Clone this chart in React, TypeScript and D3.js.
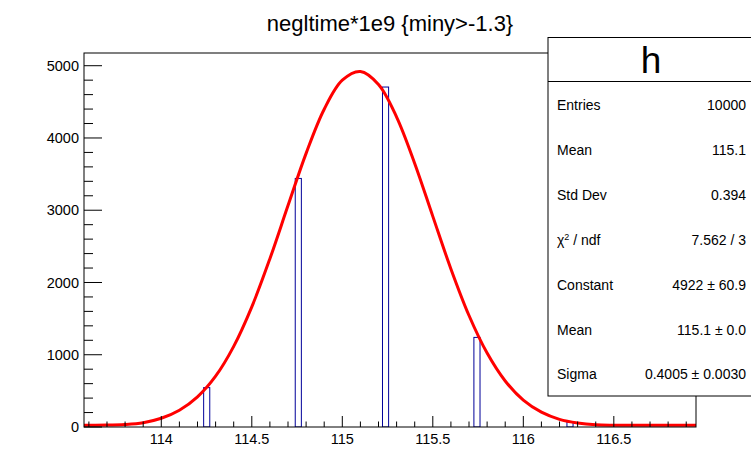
import React from 'react';
import * as d3 from 'd3';

// ---- data ----
const binLow = [114.234, 114.74, 115.222, 115.727, 116.241];
const binWidth = 0.0338;
const binCounts = [545, 3440, 4705, 1240, 70];

const fitX = [113.573, 113.6, 113.7, 113.8, 113.9, 114.0, 114.1, 114.2, 114.3, 114.4, 114.5, 114.6, 114.7, 114.8, 114.9, 115.0, 115.1, 115.2, 115.3, 115.4, 115.5, 115.6, 115.7, 115.8, 115.9, 116.0, 116.1, 116.2, 116.3, 116.4, 116.5, 116.6, 116.7, 116.8, 116.9, 116.954];
const fitY = [25, 25, 26, 35, 60, 121, 232, 417, 703, 1116, 1663, 2329, 3064, 3787, 4398, 4799, 4920, 4740, 4290, 3648, 2915, 2188, 1543, 1023, 637, 372, 205, 106, 55, 30, 25, 25, 25, 25, 25, 25];

const xMajorTicks = [114, 114.5, 115, 115.5, 116, 116.5];
const xTickLabels = ['114', '114.5', '115', '115.5', '116', '116.5'];
const yMajorTicks = [0, 1000, 2000, 3000, 4000, 5000];
const yTickLabels = ['0', '1000', '2000', '3000', '4000', '5000'];

const title = 'negltime*1e9 {miny>-1.3}';
const statsName = 'h';
const statsLabels = ['Entries', 'Mean', 'Std Dev', 'CHI', 'Constant', 'Mean', 'Sigma'];
const statsValues = ['10000', '115.1', '0.394', '7.562 / 3', '4922 \u00b1 60.9', '115.1 \u00b1 0.0', '0.4005 \u00b1 0.0030'];

const X_DOMAIN: [number, number] = [113.573, 116.954];
const Y_DOMAIN: [number, number] = [0, 5176];

const FONT = '"Liberation Sans", Arial, Helvetica, sans-serif';

export default function App() {
  const W = 751, H = 471;
  const fl = 84, fr = 696, ft = 53, fb = 427;
  const x = d3.scaleLinear().domain(X_DOMAIN).range([fl, fr]);
  const y = d3.scaleLinear().domain(Y_DOMAIN).range([fb, ft]);

  const xMinor = d3.range(Math.ceil(X_DOMAIN[0] * 10), Math.floor(X_DOMAIN[1] * 10) + 1)
    .map((v) => v / 10)
    .filter((v) => !xMajorTicks.some((m) => Math.abs(m - v) < 1e-6));
  const yMinor = d3.range(0, Y_DOMAIN[1], 200).filter((v) => v % 1000 !== 0);

  const line = d3.line<number>()
    .x((_, i) => x(fitX[i]))
    .y((d) => y(d))
    .curve(d3.curveCatmullRom);

  const boxL = 548, boxT = 37.5, boxSep = 81.5, boxB = 396;
  const rowH = (boxB - boxSep) / statsLabels.length;

  return (
    <svg width={W} height={H} style={{ position: 'absolute', left: 0, top: 0, background: '#fff' }}
      fontFamily={FONT}>
      <rect x={0} y={0} width={W} height={H} fill="#fff" />
      <defs>
        <clipPath id="frameClip">
          <rect x={fl} y={ft} width={fr - fl} height={fb - ft} />
        </clipPath>
      </defs>
      {/* title */}
      <text x={(fl + fr) / 2} y={31} textAnchor="middle" fontSize={22} fill="#000">{title}</text>

      {/* histogram bars */}
      <g clipPath="url(#frameClip)">
        {binLow.map((b, i) => (
          <rect key={i} x={x(b)} y={y(binCounts[i])} width={x(b + binWidth) - x(b)}
            height={y(0) - y(binCounts[i])} fill="none" stroke="#000099" strokeWidth={1} />
        ))}
        <path d={line(fitY) || ''} fill="none" stroke="#ff0000" strokeWidth={3} strokeLinejoin="round" />
      </g>

      {/* frame */}
      <rect x={fl} y={ft} width={fr - fl} height={fb - ft} fill="none" stroke="#000" strokeWidth={1} />

      {/* x axis ticks */}
      {xMajorTicks.map((t, i) => (
        <g key={'xm' + i}>
          <line x1={x(t)} x2={x(t)} y1={fb} y2={fb - 11} stroke="#000" />
          <text x={x(t)} y={fb + 17} textAnchor="middle" fontSize={14.5} fill="#000">{xTickLabels[i]}</text>
        </g>
      ))}
      {xMinor.map((t, i) => (
        <line key={'xn' + i} x1={x(t)} x2={x(t)} y1={fb} y2={fb - 5.5} stroke="#000" />
      ))}

      {/* y axis ticks */}
      {yMajorTicks.map((t, i) => (
        <g key={'ym' + i}>
          <line x1={fl} x2={fl + 18} y1={y(t)} y2={y(t)} stroke="#000" />
          <text x={79} y={y(t)} dy="0.35em" textAnchor="end" fontSize={14.5} fill="#000">{yTickLabels[i]}</text>
        </g>
      ))}
      {yMinor.map((t, i) => (
        <line key={'yn' + i} x1={fl} x2={fl + 9} y1={y(t)} y2={y(t)} stroke="#000" />
      ))}

      {/* stats box */}
      <rect x={boxL} y={boxT} width={W + 5 - boxL} height={boxB - boxT} fill="#fff" stroke="#000" strokeWidth={1} />
      <line x1={boxL} x2={W + 5} y1={boxSep} y2={boxSep} stroke="#000" />
      <text x={651} y={boxSep - 9} textAnchor="middle" fontSize={37} fill="#000">{statsName}</text>
      {statsLabels.map((lab, i) => {
        const cy = boxSep + (i + 0.5) * rowH + 1;
        return (
          <g key={'s' + i}>
            {lab === 'CHI' ? (
              <text x={557} y={cy} dy="0.35em" fontSize={14} fill="#000">
                <tspan>{'\u03c7'}</tspan>
                <tspan dy={-5} fontSize={9}>2</tspan>
                <tspan dy={5} style={{ whiteSpace: 'pre' }}>{' / ndf'}</tspan>
              </text>
            ) : (
              <text x={557} y={cy} dy="0.35em" fontSize={14} fill="#000">{lab}</text>
            )}
            <text x={746} y={cy} dy="0.35em" textAnchor="end" fontSize={14} fill="#000"
              style={{ whiteSpace: 'pre' }}>{statsValues[i]}</text>
          </g>
        );
      })}
    </svg>
  );
}
